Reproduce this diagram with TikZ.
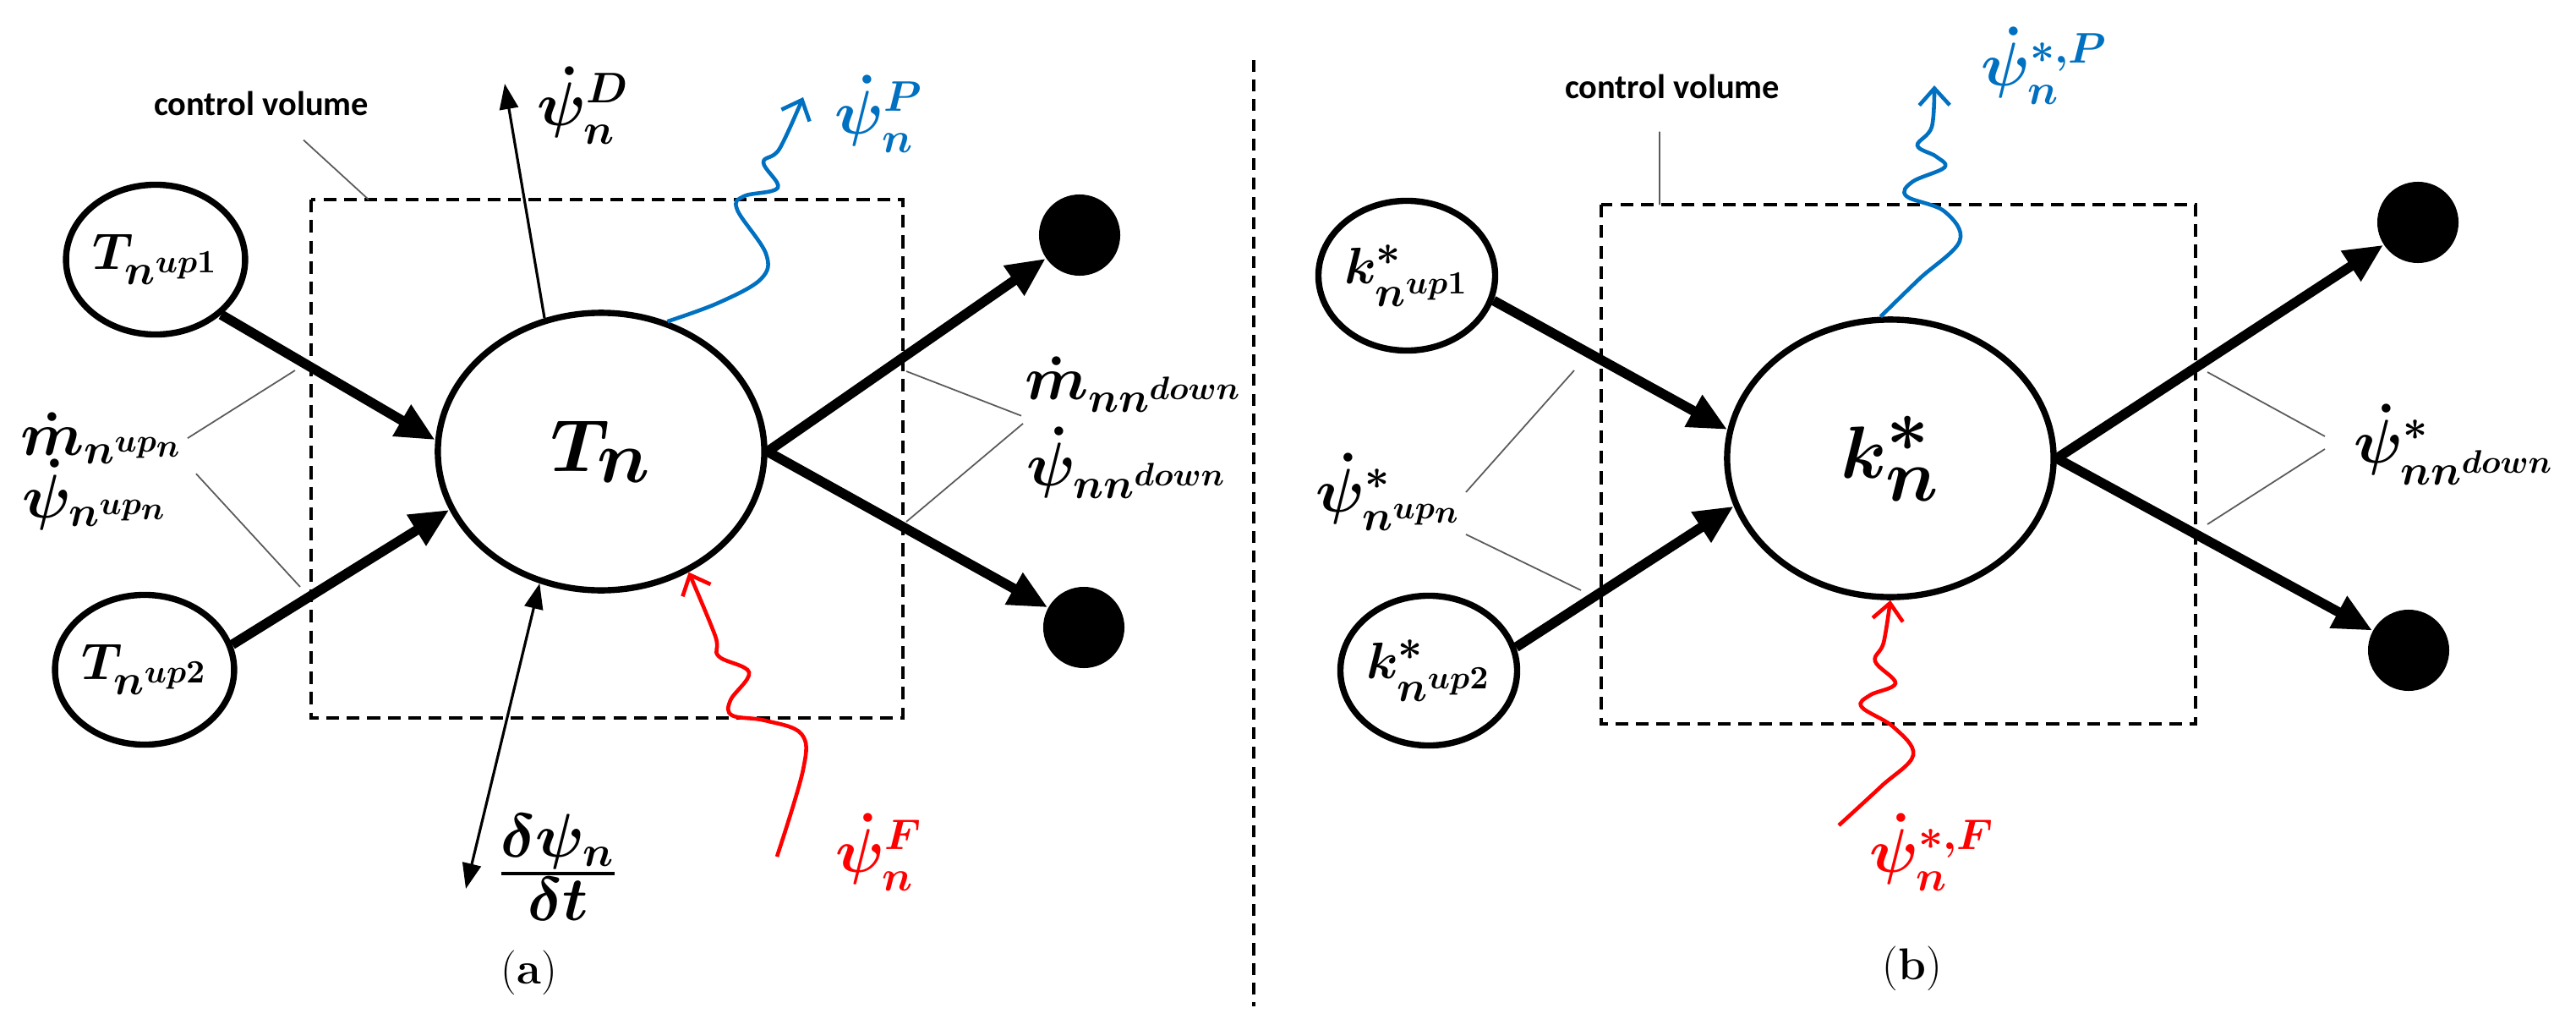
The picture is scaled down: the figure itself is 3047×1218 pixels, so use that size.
\documentclass[tikz,border=0pt]{standalone}
\usepackage{amsmath}
\usepackage{fontspec}
\usepackage{xcolor}
\usepackage{tikz}
\usetikzlibrary{arrows.meta, shapes.geometric}
\newfontfamily\cvfont{Carlito}
\DeclareMathSizes{19}{19}{13.3}{11}
\DeclareMathSizes{24}{24}{21}{14}
\definecolor{fluxblue}{RGB}{0,112,192}
\definecolor{fluxred}{RGB}{255,0,0}
\definecolor{leadgray}{RGB}{90,90,90}

\begin{document}
\begin{tikzpicture}[x=0.01cm, y=-0.01cm,
        mainnode/.style={ellipse, draw, line width=2.1pt, minimum width=3.86cm, minimum height=3.28cm, inner sep=0pt, font=\fontsize{33}{38}\selectfont\boldmath},
        upnode/.style={ellipse, draw, line width=2.1pt, minimum width=1.87cm, minimum height=1.77cm, inner sep=0pt, font=\fontsize{19}{23}\selectfont\boldmath},
        sink/.style={circle, fill, minimum size=0.96cm, inner sep=0pt},
        flow/.style={line width=3.3pt, -{Triangle[length=0.46cm, width=0.4cm]}},
        thinflow/.style={line width=0.9pt, -{Triangle[length=0.3cm, width=0.22cm]}},
        dblflow/.style={line width=0.9pt, {Triangle[length=0.3cm, width=0.22cm]}-{Triangle[length=0.3cm, width=0.22cm]}},
        wave/.style={line width=1.3pt, -{Straight Barb[length=0.2cm, width=0.36cm]}},
        cvbox/.style={line width=1pt, dash pattern=on 4.3pt off 2.6pt},
        divider/.style={line width=0.9pt, dash pattern=on 4pt off 2.6pt},
        leader/.style={leadgray, line width=0.5pt},
        lbl/.style={inner sep=1pt, font=\fontsize{22}{24}\selectfont\boldmath},
        fraclbl/.style={inner sep=1pt, font=\fontsize{24}{28}\selectfont\boldmath},
        cvlabel/.style={inner sep=1pt, font=\cvfont\bfseries\fontsize{11.5}{14}\selectfont},
        caption/.style={font=\fontsize{15}{18}\selectfont}]

        \useasboundingbox (0,0) rectangle (3047,1218);

        \draw[cvbox] (368,236) rectangle (1068,849);
        \node (Tn) at (711,534) [mainnode] {$T_n$};
        \node (Tup1A) at (184,307) [upnode] {$T_{n^{up1}}$};
        \node (Tup2A) at (171,792) [upnode] {$T_{n^{up2}}$};
        \node (outA1) at (1277,278) [sink] {};
        \node (outA2) at (1282,742) [sink] {};
        \coordinate (psiDtip) at (597,99);
        \coordinate (dtend) at (551,1051);
        \coordinate (cvtopA) at (436,236);
        \coordinate (lkA1) at (349,438);
        \coordinate (lkA2) at (355,694);
        \coordinate (rkA1) at (1072,439);
        \coordinate (rkA2) at (1072,617);

        \draw[flow] (Tup1A.-40) -- (Tn.176);
        \draw[flow] (Tup2A.16) -- (Tn.201);
        \draw[flow] (Tn.east) -- (outA1);
        \draw[flow] (Tn.east) -- (outA2);
        \draw[thinflow] (Tn.113) -- (psiDtip);
        \draw[dblflow] (Tn.245) -- (dtend);
        \draw[wave, fluxblue] plot[smooth, tension=0.6] coordinates {(Tn.63) (850,358) (900,330) (906,300) (872,248) (880,232) (920,222) (903,192) (922,176) (950,115)};
        \draw[wave, fluxred] plot[smooth, tension=0.6] coordinates {(919,1013) (950,910) (948,868) (905,852) (866,846) (864,828) (886,795) (850,776) (846,752) (Tn.-54)};

        \node (cvA) at (309,122) [cvlabel] {control volume};
        \node (psiDA) at (690,125) [lbl] {$\dot{\psi}_n^D$};
        \node (psiPA) at (1040,135) [lbl, fluxblue] {$\dot{\psi}_n^P$};
        \node (mupA) at (20,538) [lbl, anchor=base west] {$\dot{m}_{n^{up_n}}$};
        \node (psupA) at (22,612) [lbl, anchor=base west] {$\dot{\psi}_{n^{up_n}}$};
        \node (mdnA) at (1208,472) [lbl, anchor=base west] {$\dot{m}_{nn^{down}}$};
        \node (psdnA) at (1210,574) [lbl, anchor=base west] {$\dot{\psi}_{nn^{down}}$};
        \node (dtA) at (660,1026) [fraclbl] {$\frac{\delta\psi_n}{\delta t}$};
        \node (psiFA) at (1040,1008) [lbl, fluxred] {$\dot{\psi}_n^F$};
        \node (capA) at (626,1150) [caption] {(\textbf{a})};

        \draw[leader] ([xshift=0.5cm, yshift=-0.25cm]cvA.south) -- (cvtopA);
        \draw[leader] (mupA.east) -- (lkA1);
        \draw[leader] ([xshift=0.1cm, yshift=-0.42cm]mupA.east) -- (lkA2);
        \draw[leader] (rkA1) -- (mdnA.south west);
        \draw[leader] (psdnA.north west) -- (rkA2);

        \draw[divider] (1483,71) -- (1483,1190);

        \draw[cvbox] (1894,242) rectangle (2597,856);
        \node (Kn) at (2236,542) [mainnode] {$k^*_n$};
        \node (Kup1B) at (1664,326) [upnode] {$k^*_{n^{up1}}$};
        \node (Kup2B) at (1690,793) [upnode] {$k^*_{n^{up2}}$};
        \node (outB1) at (2860,263) [sink] {};
        \node (outB2) at (2849,769) [sink] {};
        \coordinate (cvtopB) at (1963,242);
        \coordinate (lkB1) at (1862,438);
        \coordinate (lkB2) at (1870,698);
        \coordinate (rkB1) at (2611,440);
        \coordinate (rkB2) at (2611,620);

        \draw[flow] (Kup1B.-16) -- (Kn.170);
        \draw[flow] (Kup2B.15) -- (Kn.197);
        \draw[flow] (Kn.east) -- (outB1);
        \draw[flow] (Kn.east) -- (outB2);
        \draw[wave, fluxblue] plot[smooth, tension=0.6] coordinates {(Kn.94) (2270,330) (2318,285) (2300,250) (2255,232) (2262,215) (2300,198) (2290,185) (2268,172) (2285,150) (2288,101)};
        \draw[wave, fluxred] plot[smooth, tension=0.6] coordinates {(2175,976) (2225,930) (2263,893) (2240,860) (2202,836) (2212,822) (2242,808) (2218,782) (2228,760) (Kn.south)};

        \node (cvB) at (1978,102) [cvlabel] {control volume};
        \node (psiPB) at (2418,78) [lbl, fluxblue] {$\dot{\psi}_n^{*,P}$};
        \node (psupB) at (1643,582) [lbl] {$\dot{\psi}^*_{n^{up_n}}$};
        \node (psdnB) at (2903,526) [lbl] {$\dot{\psi}^*_{nn^{down}}$};
        \node (psiFB) at (2285,1008) [lbl, fluxred] {$\dot{\psi}_n^{*,F}$};
        \node (capB) at (2262,1145) [caption] {(\textbf{b})};

        \draw[leader] ([xshift=-0.15cm, yshift=-0.35cm]cvB.south) -- (cvtopB);
        \draw[leader] (psupB.east) -- (lkB1);
        \draw[leader] (psupB.south east) -- (lkB2);
        \draw[leader] (rkB1) -- ([xshift=-0.3cm, yshift=0.1cm]psdnB.west);
        \draw[leader] ([xshift=-0.3cm, yshift=-0.05cm]psdnB.west) -- (rkB2);
    \end{tikzpicture}
\end{document}
